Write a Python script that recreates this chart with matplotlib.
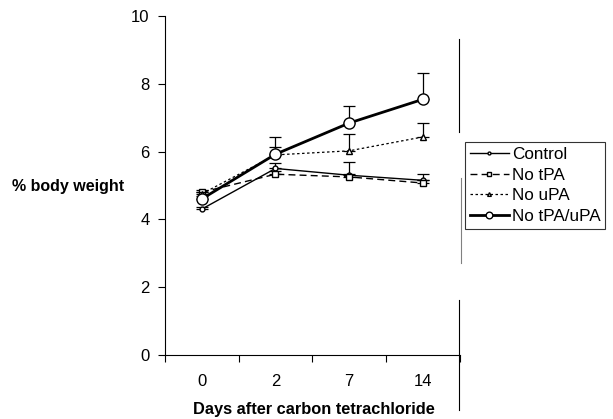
import numpy as np
import matplotlib.pyplot as plt

plt.rcParams['font.family'] = ['Liberation Sans', 'DejaVu Sans']

days = ['0', '2', '7', '14']
control = [4.3, 5.5, 5.3, 5.15]
no_tpa = [4.8, 5.33, 5.25, 5.07]
no_upa = [4.75, 5.9, 6.02, 6.43]
no_both = [4.6, 5.92, 6.84, 7.54]

err_control = [0.05, 0.15, 0.4, 0.2]
err_tpa = [0.05, 0.1, 0.1, 0.1]
err_upa = [0.05, 0.24, 0.5, 0.42]
err_both = [0.1, 0.5, 0.5, 0.77]

x = np.arange(len(days))

fig = plt.figure(figsize=(6.13, 4.19), dpi=100)
ax = fig.add_axes([0.269, 0.153, 0.481, 0.809])

series = [
    ('Control', control, err_control, dict(ls='-', lw=1.0, marker='o', ms=3.5)),
    ('No tPA', no_tpa, err_tpa, dict(ls=(0, (5, 3)), lw=1.0, marker='s', ms=5)),
    ('No uPA', no_upa, err_upa, dict(ls=(0, (2, 2)), lw=0.9, marker='^', ms=4.5)),
    ('No tPA/uPA', no_both, err_both, dict(ls='-', lw=2.0, marker='o', ms=8)),
]

for name, vals, err, st in series:
    ax.errorbar(x, vals, yerr=[np.zeros(len(vals)), err], fmt='none',
                ecolor='black', elinewidth=0.9, capsize=4, capthick=0.9)
    ax.plot(x, vals, color='black', mfc='white', mec='black', mew=1.0,
            label=name, **st)

ax.set_xlim(-0.5, 3.5)
ax.set_ylim(0, 10)
ax.set_yticks([0, 2, 4, 6, 8, 10])
ax.set_xticks([-0.5, 0.5, 1.5, 2.5, 3.5])
ax.set_xticklabels([])
ax.set_xticks(x, minor=True)
ax.set_xticklabels(days, minor=True)
ax.tick_params(axis='x', which='minor', length=0, pad=14, labelsize=12)
ax.tick_params(axis='x', which='major', direction='out', length=5)
ax.tick_params(axis='y', direction='out', length=5, labelsize=12, pad=6)
ax.spines['top'].set_visible(False)
ax.spines['right'].set_visible(False)

fig.text(0.111, 0.554, '% body weight', fontsize=11.5, fontweight='bold',
         ha='center', va='center')
fig.text(0.512, 0.022, 'Days after carbon tetrachloride', fontsize=11.8,
         fontweight='bold', ha='center', va='center')

leg = fig.legend(loc='upper left', bbox_to_anchor=(0.758, 0.661),
                 frameon=True, fancybox=False, fontsize=12.3,
                 handlelength=2.3, handletextpad=0.15, borderpad=0.3,
                 labelspacing=0.32, borderaxespad=0, markerscale=0.6)
leg.get_frame().set_edgecolor('black')
leg.get_frame().set_linewidth(0.8)

# scan edge lines at the right of the plot
fig.add_artist(plt.Line2D([0.749, 0.749], [1 - 39/419, 1 - 132/419], color='black', lw=0.8))
fig.add_artist(plt.Line2D([0.752, 0.752], [1 - 178/419, 1 - 263/419], color='gray', lw=0.8))
fig.add_artist(plt.Line2D([0.749, 0.749], [1 - 300/419, 1 - 410/419], color='black', lw=0.8))

fig.savefig('out.png', dpi=100)
